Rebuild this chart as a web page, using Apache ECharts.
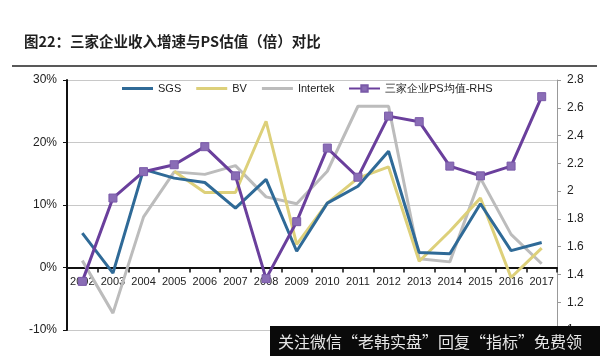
<!DOCTYPE html>
<html>
<head>
<meta charset="utf-8">
<script src="https://cdn.jsdelivr.net/npm/echarts@6/dist/echarts.min.js"></script>
<style>
html,body{margin:0;padding:0;background:#fff;}
#c{width:600px;height:356px;}
</style>
</head>
<body>
<div id="c"></div>
<script>
var years = ['2002','2003','2004','2005','2006','2007','2008','2009','2010','2011','2012','2013','2014','2015','2016','2017'];
var sgs = [5.5, -0.9, 15.7, 14.3, 13.6, 9.5, 14.1, 2.6, 10.3, 13.0, 18.6, 2.4, 2.2, 10.2, 2.7, 4.0];
var bv = [null, null, null, 15.4, 12.0, 12.0, 23.4, 3.7, 10.3, 14.3, 16.1, 1.0, 5.8, 11.1, -1.6, 3.1];
var intertek = [1.1, -7.3, 8.1, 15.3, 14.9, 16.3, 11.3, 10.2, 15.4, 25.8, 25.8, 1.4, 0.9, 14.3, 5.3, 0.6];
var psAvg = [1.35, 1.95, 2.14, 2.19, 2.32, 2.11, 1.37, 1.78, 2.31, 2.10, 2.54, 2.50, 2.18, 2.11, 2.18, 2.68];
var leftTicks = {min: -10, max: 30, interval: 10};
var rightTicks = {min: 1, max: 2.8, interval: 0.2};
var names = ['SGS', 'BV', 'Intertek', '三家企业PS均值-RHS'];
var titleText = '图22：三家企业收入增速与PS估值（倍）对比';
var watermark = '关注微信“老韩实盘”回复“指标”免费领';

var gridTop = 80, gridBottom = 26, H = 356;
var plotH = H - gridTop - gridBottom;
// move category axis up to the zero line of the left axis
var zeroOffset = -plotH * (0 - leftTicks.min) / (leftTicks.max - leftTicks.min);

var chart = echarts.init(document.getElementById('c'), null, {renderer: 'canvas'});
var font = 'Liberation Sans, Arial, sans-serif';
chart.setOption({
  animation: false,
  backgroundColor: '#fff',
  textStyle: {fontFamily: font},
  title: {
    text: titleText,
    left: 19, top: 29,
    textStyle: {fontFamily: 'Noto Sans CJK SC', fontWeight: 'bold', fontSize: 14.5, color: '#1f1f1f'}
  },
  graphic: [
    {type: 'line', shape: {x1: 12, y1: 66, x2: 597, y2: 66}, style: {stroke: '#222', lineWidth: 1.5}, z: 10},
    {type: 'rect', shape: {x: 270, y: 326, width: 330, height: 30}, style: {fill: '#0a0a0a'}, z: 100},
    {type: 'text', x: 278, y: 342, style: {text: watermark, fill: '#e6e6e6', font: '16px "Noto Sans CJK SC"', textVerticalAlign: 'middle'}, z: 101}
  ],
  legend: [
    {
      data: names.slice(0, 3),
      left: 122, top: 83, padding: 0,
      icon: 'rect',
      itemWidth: 31, itemHeight: 3, itemGap: 15,
      textStyle: {fontSize: 11, color: '#222', fontFamily: font}
    },
    {
      data: [names[3]],
      left: 348, top: 83, padding: 0,
      itemWidth: 31, itemHeight: 8,
      textStyle: {fontSize: 11, color: '#222', fontFamily: font}
    }
  ],
  grid: {left: 67, right: 43, top: gridTop, bottom: gridBottom},
  xAxis: {
    type: 'category', data: years, boundaryGap: true,
    position: 'bottom', offset: zeroOffset,
    axisLine: {onZero: false, lineStyle: {color: '#111', width: 2}},
    axisTick: {show: true, length: 5, inside: false, lineStyle: {color: '#111', width: 1.5}},
    axisLabel: {fontSize: 11, color: '#222', margin: 9, interval: 0}
  },
  yAxis: [
    {
      type: 'value', min: leftTicks.min, max: leftTicks.max, interval: leftTicks.interval,
      axisLine: {show: true, onZero: false, lineStyle: {color: '#111', width: 2}},
      axisTick: {show: true, length: 4, lineStyle: {color: '#111'}},
      axisLabel: {formatter: '{value}%', fontSize: 12, color: '#222', margin: 10},
      splitLine: {show: true, lineStyle: {color: '#c8c8c8', width: 1}}
    },
    {
      type: 'value', min: rightTicks.min, max: rightTicks.max, interval: rightTicks.interval,
      axisLine: {show: true, onZero: false, lineStyle: {color: '#999', width: 1}},
      axisTick: {show: true, length: 4, lineStyle: {color: '#999'}},
      axisLabel: {fontSize: 12, color: '#222', margin: 10},
      splitLine: {show: false}
    }
  ],
  series: [
    {name: names[0], type: 'line', data: sgs, yAxisIndex: 0, symbol: 'none', lineStyle: {color: '#2f6a97', width: 3}, itemStyle: {color: '#2f6a97'}, z: 3},
    {name: names[1], type: 'line', data: bv, yAxisIndex: 0, symbol: 'none', lineStyle: {color: '#ddd07a', width: 3}, itemStyle: {color: '#ddd07a'}, z: 2},
    {name: names[2], type: 'line', data: intertek, yAxisIndex: 0, symbol: 'none', lineStyle: {color: '#bcbcbc', width: 3}, itemStyle: {color: '#bcbcbc'}, z: 1},
    {name: names[3], type: 'line', data: psAvg, yAxisIndex: 1, symbol: 'rect', symbolSize: 8, lineStyle: {color: '#6a3f9c', width: 3}, itemStyle: {color: '#8a6db6', borderColor: '#7a5aa8', borderWidth: 1}, z: 4}
  ]
});
</script>
</body>
</html>
